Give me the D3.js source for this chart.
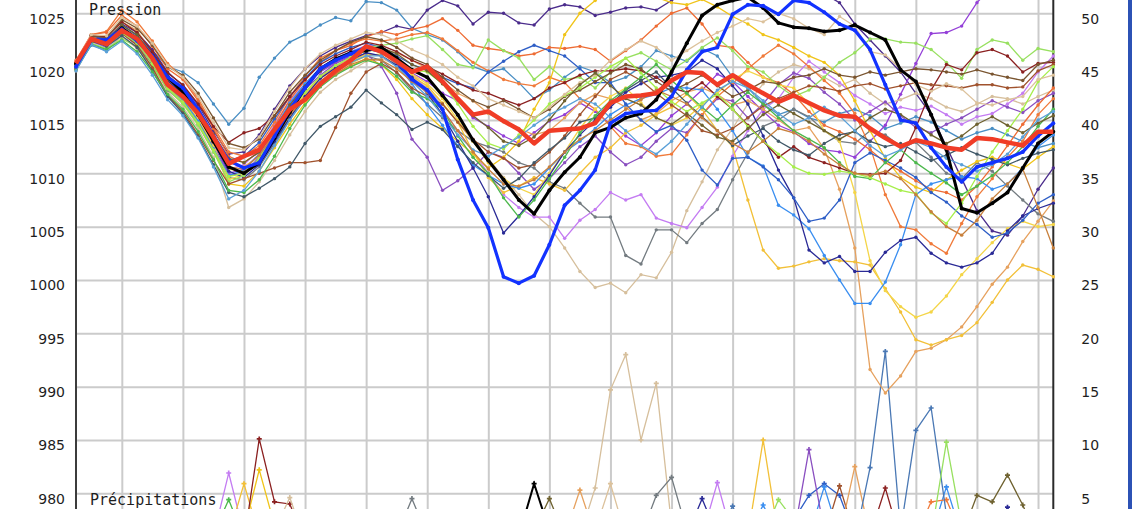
<!DOCTYPE html>
<html><head><meta charset="utf-8">
<script src="https://cdn.jsdelivr.net/npm/d3@7"></script>
<style>html,body{margin:0;padding:0;background:#fff;overflow:hidden}</style>
</head><body>
<svg id="chart" width="1132" height="509"></svg>
<script>
// ---------- DATA ----------
const hours = [0,6,12,18,24,30,36,42,48,54,60,66,72,78,84,90,96,102,108,114,120,126,132,138,144,150,156,162,168,174,180,186,192,198,204,210,216,222,228,234,240,246,252,258,264,270,276,282,288,294,300,306,312,318,324,330,336,342,348,354,360,366,372,378,384];
const gridHours = [18,42,66,90,114,138,162,186,210,234,258,282,306,330,354,378];
const pressureTicks = [980,985,990,995,1000,1005,1010,1015,1020,1025];
const precipTicks = [5,10,15,20,25,30,35,40,45,50];

const meanP = [1020.3,1022.6,1022.1,1023.4,1022.6,1020.8,1018.3,1017.2,1015.6,1013.4,
 1010.9,1011.6,1012.2,1014.1,1016.0,1016.9,1018.4,1019.6,1020.6,1021.9,
 1021.4,1020.5,1019.5,1020.0,1018.6,1017.0,1015.5,1015.8,1014.9,1014.1,
 1012.8,1014.0,1014.1,1014.2,1014.7,1016.6,1017.2,1017.3,1017.5,1018.7,
 1019.5,1019.4,1018.3,1019.2,1018.3,1017.5,1016.7,1017.3,1016.6,1015.9,
 1015.4,1015.3,1014.2,1013.3,1012.5,1013.1,1012.8,1012.4,1012.2,1013.3,
 1013.2,1012.9,1012.6,1013.9,1013.9];
const operP = [1020.0,1022.5,1022.5,1023.5,1022.4,1021.0,1019.0,1018.0,1016.0,1013.5,
 1011.2,1010.5,1011.0,1013.5,1016.0,1018.0,1019.8,1020.6,1021.2,1021.8,
 1021.4,1020.5,1018.8,1017.8,1016.0,1011.3,1007.5,1004.9,1000.3,999.7,
 1000.4,1003.3,1007.0,1008.4,1010.3,1014.7,1015.6,1015.8,1015.9,1017.2,
 1019.7,1021.4,1021.8,1024.9,1025.8,1025.7,1024.9,1026.2,1026.0,1025.1,
 1024.0,1023.4,1021.6,1018.3,1015.0,1014.7,1012.4,1010.6,1009.2,1010.6,
 1011.0,1011.4,1012.0,1013.5,1014.7];
const ctrlP = [1020.3,1022.5,1022.3,1023.6,1022.6,1021.0,1019.0,1017.6,1015.5,1013.0,
 1010.6,1010.0,1011.0,1013.3,1015.7,1018.0,1019.8,1020.7,1021.3,1021.5,
 1021.8,1020.8,1019.7,1019.0,1017.3,1015.5,1013.1,1011.2,1009.4,1007.5,
 1006.2,1008.4,1010.1,1011.5,1013.8,1014.3,1015.2,1015.6,1016.9,1019.5,
 1022.2,1024.8,1025.8,1026.2,1026.5,1025.5,1024.1,1023.7,1023.6,1023.3,
 1023.4,1023.9,1023.2,1022.5,1019.7,1018.6,1015.5,1012.2,1006.7,1006.3,
 1007.2,1008.2,1010.5,1012.8,1013.9];

const m01 = [1019.8,1022.0,1021.5,1023.0,1022.8,1021.5,1020.0,1019.5,1018.5,1016.5,
 1014.6,1016.1,1019.0,1020.8,1022.3,1023.0,1023.9,1024.6,1024.3,1026.1,
 1026.0,1025.3,1023.6,1023.0,1022.5,1021.4,1020.0,1019.5,1019.8,1018.5,
 1017.0,1017.8,1019.0,1020.0,1019.5,1018.5,1019.0,1020.0,1021.5,1021.0,
 1020.5,1021.7,1021.0,1019.0,1018.0,1016.5,1015.5,1016.0,1015.2,1014.8,
 1015.6,1016.0,1015.4,1014.2,1014.7,1015.3,1014.8,1014.0,1013.2,1013.8,
 1014.2,1013.6,1013.0,1012.4,1012.8];
const m02 = [1020.3,1022.8,1022.6,1024.0,1023.2,1021.6,1019.5,1018.2,1016.4,1014.0,
 1011.8,1012.0,1013.6,1016.0,1018.2,1019.8,1021.0,1021.8,1022.4,1022.9,
 1023.2,1023.8,1023.5,1025.3,1026.2,1025.7,1024.0,1025.1,1025.0,1024.1,
 1023.9,1025.4,1025.8,1025.6,1024.8,1025.1,1025.5,1025.6,1025.3,1026.2,
 1027.0,1027.6,1028.0,1028.3,1028.1,1027.8,1027.9,1027.5,1027.0,1026.8,
 1026.0,1024.0,1022.5,1021.0,1019.5,1017.5,1015.5,1012.5,1009.5,1006.5,
 1004.6,1004.2,1006.0,1008.5,1010.5];
const m03 = [1019.9,1022.4,1021.8,1023.2,1022.0,1020.4,1018.0,1016.8,1015.0,1012.6,
 1010.0,1010.4,1011.8,1014.2,1016.5,1018.3,1019.5,1020.4,1021.0,1021.6,
 1021.4,1020.6,1019.4,1018.6,1017.5,1016.8,1015.2,1014.4,1013.5,1012.8,
 1013.8,1014.9,1015.5,1016.6,1015.8,1014.6,1013.5,1012.6,1013.8,1015.4,
 1016.5,1017.8,1019.3,1018.6,1017.2,1015.8,1014.5,1013.9,1012.8,1012.2,
 1012.0,1011.5,1013.0,1014.5,1017.4,1020.3,1023.1,1023.2,1023.8,1026.0,
 1027.5,1028.5,1029.0,1029.5,1030.0];
const m04 = [1019.6,1022.2,1021.6,1022.8,1021.7,1019.8,1017.6,1016.2,1014.2,1011.5,
 1006.8,1007.6,1009.2,1011.2,1013.6,1015.8,1017.6,1018.8,1019.6,1020.5,
 1020.8,1020.1,1019.0,1018.0,1016.5,1014.8,1013.0,1011.4,1009.6,1008.0,
 1006.2,1005.0,1003.0,1000.8,999.3,999.7,998.8,1000.5,1000.2,1002.6,
 1006.5,1009.2,1012.2,1014.2,1016.5,1018.4,1019.5,1020.2,1019.8,1019.0,
 1018.2,1018.8,1017.5,1016.5,1016.9,1017.5,1017.0,1016.2,1015.8,1016.5,
 1017.2,1017.0,1016.5,1017.2,1017.8];
const m05 = [1020.2,1022.6,1022.0,1023.4,1022.2,1020.2,1017.8,1016.6,1014.6,1012.0,
 1009.6,1009.4,1010.6,1012.8,1015.0,1017.0,1018.6,1019.5,1020.4,1021.0,
 1020.6,1019.4,1017.8,1016.5,1015.2,1014.0,1013.0,1012.5,1012.0,1011.0,
 1010.5,1009.2,1008.6,1007.2,1005.9,1005.9,1002.3,1001.5,1004.7,1004.7,
 1003.5,1005.3,1006.6,1009.4,1011.9,1014.4,1015.0,1016.0,1015.3,1014.0,
 1013.0,1012.8,1014.0,1013.6,1012.5,1012.9,1011.5,1010.0,1009.5,1011.0,
 1010.2,1008.8,1007.5,1006.2,1005.5];
const m06 = [1020.0,1022.3,1021.9,1023.6,1022.4,1020.6,1018.4,1017.0,1015.2,1012.8,
 1010.4,1010.8,1012.2,1014.6,1016.8,1018.4,1019.8,1020.7,1021.4,1022.0,
 1021.9,1020.9,1019.4,1017.8,1016.0,1014.0,1012.0,1010.0,1008.0,1006.8,
 1005.9,1005.9,1003.9,1005.6,1006.6,1008.2,1007.5,1008.0,1005.8,1005.3,
 1004.9,1006.8,1008.7,1011.6,1014.0,1016.0,1017.0,1019.0,1020.5,1019.5,
 1018.5,1017.3,1016.5,1015.6,1016.2,1015.9,1016.3,1015.5,1014.6,1015.3,
 1015.6,1016.5,1017.5,1019.5,1021.0];
const m07 = [1020.1,1022.5,1022.0,1023.3,1022.1,1020.3,1018.2,1016.9,1015.0,1012.4,
 1009.8,1010.0,1011.5,1013.9,1016.0,1017.9,1019.2,1020.3,1020.9,1021.2,
 1020.0,1017.5,1013.2,1011.5,1008.4,1009.3,1010.5,1012.0,1011.5,1010.0,
 1008.5,1009.5,1011.0,1012.5,1013.5,1012.0,1010.8,1011.5,1013.0,1014.2,
 1013.8,1015.5,1017.0,1016.8,1015.2,1016.5,1018.3,1019.4,1018.9,1017.6,
 1016.5,1015.0,1015.8,1016.7,1015.4,1014.3,1013.8,1014.6,1015.2,1016.0,
 1016.8,1016.2,1015.7,1016.8,1017.5];
const m08 = [1020.4,1023.0,1023.3,1025.3,1024.2,1022.4,1020.3,1019.0,1017.0,1014.4,
 1012.0,1011.6,1012.6,1014.8,1017.2,1019.1,1020.8,1021.5,1022.2,1022.6,
 1022.4,1022.6,1023.0,1023.2,1022.6,1021.5,1020.4,1019.6,1018.8,1018.4,
 1018.2,1019.0,1018.5,1017.0,1016.0,1014.4,1012.8,1012.5,1011.6,1011.8,
 1013.6,1015.5,1017.2,1018.4,1019.8,1021.0,1022.0,1021.2,1020.0,1018.7,
 1017.5,1015.6,1012.5,1008.0,1005.0,1004.7,1003.4,1002.5,1005.3,1007.8,
 1009.5,1011.5,1013.0,1015.5,1017.0];
const m09 = [1020.6,1023.0,1023.2,1024.8,1023.8,1021.9,1019.8,1018.8,1016.8,1014.2,
 1011.6,1011.0,1012.0,1014.4,1016.9,1018.7,1020.4,1021.5,1022.0,1022.8,
 1023.3,1023.0,1023.5,1023.8,1024.5,1023.4,1022.0,1021.7,1021.5,1021.0,
 1021.2,1021.8,1021.7,1021.9,1021.6,1020.5,1021.5,1022.5,1023.8,1025.0,
 1025.5,1024.0,1022.0,1021.8,1020.4,1019.0,1018.5,1017.4,1015.8,1014.5,
 1013.9,1013.2,1012.2,1011.0,1010.2,1009.3,1008.5,1008.2,1007.5,1008.8,
 1010.6,1012.6,1014.6,1016.4,1018.0];
const m10 = [1020.0,1022.6,1022.4,1024.2,1023.4,1021.2,1019.0,1017.8,1015.8,1013.4,
 1011.0,1010.6,1011.6,1013.8,1016.0,1017.6,1019.0,1020.0,1020.8,1021.5,
 1021.6,1021.3,1020.6,1019.8,1018.6,1017.5,1016.8,1015.6,1014.8,1014.2,
 1013.6,1014.0,1015.2,1016.6,1017.4,1017.0,1016.2,1015.0,1015.6,1016.8,
 1017.6,1018.0,1017.4,1016.4,1016.8,1016.0,1015.0,1014.0,1014.3,1012.3,
 1008.5,1003.0,991.6,989.4,991.0,993.3,993.6,994.4,995.6,997.5,
 999.6,1001.2,1003.6,1005.5,1007.4];
const m11 = [1019.7,1022.3,1022.2,1023.8,1022.9,1020.9,1018.6,1017.3,1015.3,1012.9,
 1010.4,1010.2,1011.2,1013.4,1015.6,1017.4,1018.9,1019.8,1020.5,1021.2,
 1021.0,1020.2,1019.1,1018.2,1016.6,1014.8,1012.0,1009.6,1008.2,1008.8,
 1009.6,1009.0,1008.4,1010.0,1011.5,1012.4,1013.8,1014.5,1015.5,1016.2,
 1017.4,1016.0,1014.0,1012.5,1007.5,1002.8,1001.1,1001.3,1001.7,1002.0,
 1001.8,1001.7,1001.4,999.2,997.0,994.4,993.9,994.4,994.8,996.0,
 997.9,1000.0,1001.4,1001.0,1000.3];
const m12 = [1020.2,1022.8,1022.4,1023.5,1022.5,1020.5,1018.1,1016.9,1014.8,1012.2,
 1009.0,1008.8,1010.2,1012.4,1014.6,1016.6,1018.2,1019.4,1020.0,1020.8,
 1020.2,1018.8,1017.0,1015.5,1014.2,1013.0,1011.8,1010.5,1011.5,1013.0,
 1016.0,1018.5,1023.0,1025.0,1026.2,1027.0,1027.5,1027.0,1026.5,1026.0,
 1025.8,1026.3,1025.6,1024.7,1024.0,1023.0,1022.5,1021.8,1021.0,1020.4,
 1019.2,1016.8,1014.0,1011.4,1009.6,1008.7,1008.2,1009.4,1010.3,1011.1,
 1011.5,1010.9,1010.4,1011.5,1012.5];
const m13 = [1020.1,1022.5,1022.1,1023.3,1022.3,1020.7,1018.3,1017.1,1015.1,1012.6,
 1009.4,1009.9,1011.0,1013.1,1015.3,1017.2,1018.6,1019.6,1020.3,1021.0,
 1021.2,1020.5,1019.3,1018.4,1017.0,1015.0,1013.0,1011.0,1009.5,1008.6,
 1008.0,1010.0,1012.0,1014.2,1016.0,1017.2,1018.0,1016.6,1015.2,1014.5,
 1015.2,1016.4,1017.5,1018.8,1019.6,1019.0,1018.3,1018.0,1016.5,1014.0,
 1013.0,1008.2,1001.8,999.0,997.5,996.5,997.0,998.5,1000.5,1002.0,
 1003.5,1004.8,1005.5,1005.0,1005.2];
const m14 = [1019.8,1022.6,1022.3,1023.5,1022.4,1020.6,1018.2,1016.9,1014.9,1012.3,
 1009.8,1010.3,1011.8,1014.2,1016.6,1018.4,1019.9,1020.8,1021.4,1021.9,
 1021.5,1020.2,1018.4,1016.4,1014.5,1012.6,1010.8,1009.8,1009.0,1008.6,
 1009.0,1010.5,1012.0,1013.0,1014.2,1015.5,1016.4,1017.0,1017.4,1018.0,
 1018.0,1017.8,1016.0,1014.0,1011.5,1010.7,1007.0,1006.1,1004.8,1002.3,
 1000.0,997.8,997.8,999.8,1003.3,1008.0,1009.0,1009.4,1009.7,1009.5,
 1008.5,1009.0,1010.5,1012.5,1013.6];
const m15 = [1020.3,1022.7,1022.5,1023.7,1022.7,1020.9,1018.7,1017.4,1015.5,1012.9,
 1010.2,1009.6,1010.8,1013.0,1015.2,1017.2,1018.9,1019.9,1020.6,1021.3,
 1021.0,1020.1,1019.0,1017.5,1015.5,1013.0,1010.5,1007.8,1004.4,1006.0,
 1007.8,1009.8,1012.0,1013.6,1015.0,1016.2,1017.6,1018.4,1019.0,1019.2,
 1019.5,1020.6,1019.8,1018.2,1016.5,1013.5,1010.3,1007.7,1002.8,1001.6,
 1002.2,1000.8,1000.8,1002.6,1003.7,1004.0,1002.5,1001.6,1001.2,1001.6,
 1002.5,1004.6,1006.0,1006.7,1007.2];
const m16 = [1020.0,1022.9,1022.6,1023.9,1022.9,1021.3,1019.2,1018.0,1016.0,1013.6,
 1011.2,1011.6,1012.9,1015.1,1017.2,1018.9,1020.4,1021.2,1021.8,1022.2,
 1021.8,1021.0,1020.2,1019.7,1019.0,1018.4,1018.0,1019.5,1020.5,1021.4,
 1022.0,1021.5,1021.0,1019.8,1018.5,1018.5,1016.5,1015.0,1013.9,1014.5,
 1013.1,1010.3,1008.9,1011.4,1011.5,1010.6,1009.4,1007.7,1005.5,1005.8,
 1007.5,1011.0,1011.9,1011.2,1010.5,1009.6,1008.2,1007.3,1006.0,1005.2,
 1004.0,1004.4,1005.6,1007.2,1008.0];
const m17 = [1019.9,1022.2,1021.7,1022.6,1021.9,1020.0,1017.9,1016.5,1014.5,1012.0,
 1009.2,1009.8,1011.4,1013.8,1016.2,1018.1,1019.7,1020.6,1021.3,1021.8,
 1022.0,1022.2,1022.6,1022.9,1021.6,1020.2,1019.9,1022.5,1021.5,1020.8,
 1018.8,1020.0,1018.8,1019.0,1018.0,1019.5,1020.8,1021.3,1020.5,1019.7,
 1020.6,1021.8,1022.7,1021.5,1020.0,1019.5,1018.2,1017.2,1017.8,1019.0,
 1020.4,1021.3,1022.6,1022.6,1022.3,1022.2,1021.6,1020.4,1018.9,1021.6,
 1022.5,1022.2,1020.6,1021.7,1021.4];
const m18 = [1020.2,1022.9,1022.8,1024.2,1023.2,1021.4,1019.4,1018.3,1016.5,1014.4,
 1012.9,1013.8,1014.2,1015.4,1017.2,1018.8,1020.2,1021.0,1021.6,1022.3,
 1022.0,1021.4,1020.6,1020.0,1019.3,1018.5,1017.8,1017.5,1016.9,1016.4,
 1017.0,1018.0,1018.5,1019.2,1019.6,1019.6,1019.8,1019.6,1019.0,1018.0,
 1017.6,1018.5,1017.2,1016.0,1014.5,1013.0,1011.5,1012.5,1011.5,1011.0,
 1010.5,1010.0,1009.9,1010.0,1011.2,1014.3,1017.8,1020.2,1019.7,1021.3,
 1021.6,1021.0,1019.5,1020.3,1020.4];
const m19 = [1020.3,1022.9,1022.7,1024.4,1023.6,1022.0,1020.0,1019.2,1017.5,1015.2,
 1012.8,1012.4,1013.2,1015.4,1017.6,1019.2,1020.6,1021.5,1022.3,1022.8,
 1022.5,1021.8,1020.8,1020.2,1019.0,1017.8,1016.8,1016.2,1016.8,1016.0,
 1015.2,1016.0,1017.2,1017.8,1018.6,1019.4,1020.2,1019.8,1018.6,1017.7,
 1018.4,1019.2,1018.2,1017.2,1017.8,1018.6,1018.4,1019.0,1019.2,1019.8,
 1019.2,1019.0,1019.5,1019.2,1019.5,1019.8,1019.7,1019.5,1019.3,1019.7,
 1019.3,1019.0,1018.7,1020.2,1020.6];
const m20 = [1019.8,1022.4,1022.0,1023.1,1022.0,1019.9,1017.3,1015.8,1013.6,1011.2,
 1009.0,1009.5,1010.0,1010.5,1011.0,1011.0,1011.2,1014.3,1017.5,1019.5,
 1020.3,1019.5,1018.0,1017.2,1016.5,1014.8,1013.2,1012.0,1011.4,1010.5,
 1010.8,1012.0,1013.5,1015.5,1017.2,1018.8,1019.5,1018.7,1017.5,1016.4,
 1015.4,1014.0,1013.6,1014.2,1015.2,1016.3,1017.0,1017.6,1018.2,1018.0,
 1017.7,1018.2,1018.4,1017.9,1018.2,1018.5,1018.3,1018.2,1018.0,1018.3,
 1018.3,1018.0,1018.1,1019.6,1020.2];
const m21 = [1020.0,1022.4,1021.9,1022.9,1021.8,1019.6,1017.2,1015.6,1013.4,1010.8,
 1008.2,1007.8,1008.6,1009.5,1010.6,1012.8,1014.4,1015.3,1016.2,1017.8,
 1016.6,1015.5,1014.1,1014.8,1014.1,1012.5,1011.0,1009.8,1008.6,1009.5,
 1011.0,1012.2,1013.3,1014.8,1015.2,1016.5,1017.8,1018.7,1019.5,1018.0,
 1016.6,1015.3,1014.0,1012.6,1013.5,1014.2,1013.0,1012.2,1011.7,1012.8,
 1013.6,1013.9,1013.0,1012.5,1012.8,1012.0,1011.2,1011.7,1012.4,1011.8,
 1011.3,1010.8,1011.4,1011.9,1012.2];
const m22 = [1019.7,1022.1,1021.6,1022.5,1021.4,1019.5,1017.4,1016.0,1013.9,1011.3,
 1008.4,1008.2,1009.4,1011.6,1014.2,1016.4,1018.1,1019.2,1020.0,1020.6,
 1020.2,1019.1,1017.6,1017.0,1016.0,1013.5,1011.5,1010.0,1007.7,1005.9,
 1007.5,1009.5,1011.5,1013.8,1015.4,1016.8,1017.9,1019.0,1020.2,1018.7,
 1017.5,1016.2,1015.0,1016.4,1017.6,1016.5,1015.2,1014.0,1013.2,1012.4,
 1011.0,1009.7,1009.5,1011.0,1012.2,1011.0,1010.0,1009.1,1008.0,1008.8,
 1009.8,1011.0,1012.5,1014.4,1016.0];
const m23 = [1020.1,1022.6,1022.2,1023.2,1022.2,1020.3,1018.0,1016.7,1014.7,1012.2,
 1009.7,1010.0,1011.3,1013.5,1015.8,1017.6,1019.1,1020.1,1020.9,1021.5,
 1021.5,1020.7,1019.7,1019.5,1018.4,1016.5,1014.4,1012.8,1012.3,1013.6,
 1015.0,1016.5,1017.3,1018.0,1019.0,1020.0,1020.8,1019.4,1018.0,1016.7,
 1015.8,1016.6,1017.4,1016.0,1014.4,1013.0,1011.8,1010.6,1010.0,1009.9,
 1010.2,1010.0,1009.6,1009.0,1008.4,1008.1,1006.3,1005.3,1007.2,1009.7,
 1012.0,1014.0,1016.0,1018.6,1020.0];
const m24 = [1020.5,1023.0,1022.9,1024.6,1023.8,1022.2,1020.1,1019.0,1017.2,1014.8,
 1012.4,1012.2,1013.4,1015.8,1018.0,1019.8,1021.2,1022.0,1022.6,1023.2,
 1023.0,1022.4,1021.6,1021.0,1020.2,1019.0,1018.2,1017.0,1016.4,1015.8,
 1015.2,1016.2,1017.4,1018.5,1019.2,1020.6,1021.6,1022.4,1021.8,1020.6,
 1021.5,1022.4,1023.2,1023.8,1024.5,1024.2,1025.0,1024.5,1023.6,1023.0,
 1024.7,1023.8,1021.4,1021.1,1019.8,1018.3,1017.7,1018.4,1017.9,1016.6,
 1016.4,1016.9,1017.2,1018.8,1019.2];
const m25 = [1020.2,1022.7,1022.4,1023.9,1023.0,1021.0,1018.8,1017.8,1016.0,1013.7,
 1011.4,1011.0,1012.0,1014.0,1016.4,1018.2,1019.6,1020.6,1021.2,1021.7,
 1021.8,1021.2,1020.2,1019.6,1018.4,1017.0,1015.4,1014.3,1013.0,1012.6,
 1013.4,1015.0,1016.8,1018.3,1019.4,1018.2,1017.0,1016.4,1015.2,1014.6,
 1015.6,1014.5,1013.4,1013.0,1014.2,1015.5,1016.4,1015.6,1014.8,1014.0,
 1013.2,1014.0,1015.2,1016.0,1015.5,1014.6,1013.6,1012.8,1013.5,1014.6,
 1015.3,1014.5,1013.8,1014.7,1015.4];
const m26 = [1019.6,1022.1,1021.4,1022.4,1021.2,1019.2,1016.9,1015.4,1013.3,1010.6,
 1007.6,1008.4,1010.2,1012.6,1015.0,1017.0,1018.6,1019.6,1020.4,1021.0,
 1021.0,1020.0,1018.6,1017.2,1015.4,1013.6,1012.2,1011.6,1012.5,1013.4,
 1014.5,1015.5,1016.2,1017.0,1016.5,1015.2,1014.0,1012.6,1011.8,1013.0,
 1014.6,1016.2,1017.8,1018.6,1018.0,1016.8,1015.6,1014.6,1015.2,1016.2,
 1015.4,1014.0,1012.6,1011.6,1012.2,1013.0,1012.4,1011.4,1010.8,1010.2,
 1010.8,1011.8,1013.4,1015.0,1015.8];
const m27 = [1020.0,1022.5,1022.2,1023.4,1022.6,1020.6,1018.4,1017.1,1015.4,1013.0,
 1010.6,1010.4,1011.7,1013.6,1015.5,1017.0,1018.2,1019.3,1020.2,1020.7,
 1020.6,1019.8,1018.6,1017.6,1016.0,1014.0,1012.0,1010.4,1009.0,1008.8,
 1009.4,1010.6,1012.0,1013.2,1014.0,1015.0,1016.0,1016.9,1017.8,1017.2,
 1016.5,1015.2,1014.0,1012.8,1012.0,1013.0,1014.2,1013.8,1013.0,1011.8,
 1010.8,1010.0,1009.8,1010.2,1009.5,1008.0,1006.4,1005.0,1004.2,1005.6,
 1007.6,1009.0,1010.4,1006.8,1003.0];

// precipitation (mm), right axis
const pr01 = [0,0,0,0,0,0,0,0,0,1.0, 6.9,1.2,0,0,0,0,0,0,0,0, 0,0,0,0,0,0,0,0,0,0, 0,0,0,0,0,0,0,0,0,0, 0,1.0,6.0,0.8,0,0,0,0,0,0, 0,0,0,0,0,0,0,0,0,0, 0,0,0,0,0];
const pr02 = [0,0,0,0,0,0,0,0,0,1.2, 4.4,0.8,0,0,0,0,0,0,0,0, 0,0,0,0,0,0,0,0,0,0, 0,0,0,0,0,0,0,0,0,0, 0,0,0,0,0,0,0,0,0,0, 0,0,0,0,0,0,0,0,0,0, 0,0,0,0,0];
const pr03 = [0,0,0,0,0,0,0,0,0,0, 1.0,5.9,1.0,0,0,0,0,0,0,0, 0,0,0,0,0,0,0,0,0,0, 0,0,0,0,0,0,0,0,0,0, 0,0,0,0,1.0,10.0,1.0,0,0,0, 0,0,0,0,0,0,0,0,0,0, 0,0,0,0,0];
const pr04 = [0,0,0,0,0,0,0,0,0,0, 0,1.5,7.2,2.0,0,0,0,0,0,0, 0,0,0,0,0,0,0,0,0,0, 0,0,0,0,0,0,0,0,0,0, 0,0,0,0,0,0,0,0,0,0, 0,0,0,0,0,0,0,0,0,0, 0,0,0,0,0];
const pr05 = [0,0,0,0,0,0,0,0,0,0, 0,0.5,10.1,4.2,4.0,0.5,0,0,0,0, 0,0,0,0,0,0,0,0,0,0, 0,0,0,0,0,0,0,0,0,0, 0,0,0,0,0,0,0,0,0,0, 0,0,1.0,5.5,0.5,0,0,0,0,0, 0,0,0,0,0];
const pr06 = [0,0,0,0,0,0,0,0,0,0, 0,0,0,1.5,4.6,0.5,0,0,0,0, 0,0,0,0,0,0,0,0,0,0, 0,0,0,1.0,5.5,14.7,18.0,10.0,15.3,2.0, 0,0,0,0,0,0,0,0,0,0, 0,0,0,0,0,0,0,0,0,0, 0,0,0,0,0];
const pr07 = [0,0,0,0,0,0,0,0,0,0, 0,0,0,0,0,0,0,0,0,0, 0,0,0,0,0,0,0,0,0,0, 0,0,0,0,1.5,5.9,1.0,0,0,0, 0,0,0,0,0,0,0,0,0,0, 0,0,0,0,0,0,0,0,0,0, 0,0,0,0,0];
const pr08 = [0,0,0,0,0,0,0,0,0,0, 0,0,0,0,0,0,0,0,0,0, 0,1.0,4.5,1.0,0,0,0,0,0,0, 0,0,0,0,0,0,0,1.0,4.8,6.5, 1.5,0,0,0,0,0,0,0,0,0, 0,0,0,0,0,0,0,0,0,0, 0,0,0,0,0];
const pr09 = [0,0,0,0,0,0,0,0,0,0, 0,0,0,0,0,0,0,0,0,0, 0,0,0,0,0,0,0,0,0,1.0, 5.9,1.5,0,0,0,0,0,0,0,0, 0,0,0,0,0,0,0,0,0,0, 0,0,0,0,0,0,0,0,0,0, 0,0,0,0,0];
const pr10 = [0,0,0,0,0,0,0,0,0,0, 0,0,0,0,0,0,0,0,0,0, 0,0,0,0,0,0,0,0,0,0, 1.5,4.5,1.0,0,0,0,0,0,0,0, 0,0,0,0,0,0,0,0,0,0, 0,0,0,0,0,0,0,0,1.0,4.8, 4.2,6.7,3.9,0.5,0];
const pr11 = [0,0,0,0,0,0,0,0,0,0, 0,0,0,0,0,0,0,0,0,0, 0,0,0,0,0,0,0,0,0,0, 0,0,0,0,0,0,0,0,0,0, 1.0,4.5,1.0,0,0,0,0,0,0,0, 0,0,0,0,0,0,0,0,0,0, 1.0,3.7,0.5,0,0];
const pr12 = [0,0,0,0,0,0,0,0,0,0, 0,0,0,0,0,0,0,0,0,0, 0,0,0,0,0,0,0,0,0,0, 0,0,0,0,0,0,0,0,0,0, 0,0,0,0,0,0,0,2.5,4.8,5.9, 4.8,1.0,0,0,0,0,0,0,0,0, 0,0,0,0,0];
const pr13 = [0,0,0,0,0,0,0,0,0,0, 0,0,0,0,0,0,0,0,0,0, 0,0,0,0,0,0,0,0,0,0, 0,0,0,0,0,0,0,0,0,0, 0,0,0,0,1.0,3.9,1.0,0,1.0,5.6, 1.0,0,0,0,0,0,1.0,5.6,1.0,0, 0,0,0,0,0];
const pr14 = [0,0,0,0,0,0,0,0,0,0, 0,0,0,0,0,0,0,0,0,0, 0,0,0,0,0,0,0,0,0,0, 0,0,0,0,0,0,0,0,0,0, 0,0,0,0,0,0,0,1.0,9.1,1.5, 0,0,0,0,0,0,0,0,0,0, 0,0,0,0,0];
const pr15 = [0,0,0,0,0,0,0,0,0,0, 0,0,0,0,0,0,0,0,0,0, 0,0,0,0,0,0,0,0,0,0, 0,0,0,0,0,0,0,0,0,0, 0,0,0,0,0,0,0,0,0,1.0, 5.7,1.0,0,0,0,0,0,0,0,0, 0,0,0,0,0];
const pr16 = [0,0,0,0,0,0,0,0,0,0, 0,0,0,0,0,0,0,0,0,0, 0,0,0,0,0,0,0,0,0,0, 0,0,1.0,5.3,1.0,0,0,0,0,0, 0,0,0,0,0,0,0,0,0,0, 1.0,7.5,1.0,0,0,0,0,0,0,0, 0,0,0,0,0];
const pr17 = [0,0,0,0,0,0,0,0,0,0, 0,0,0,0,0,0,0,0,0,0, 0,0,0,0,0,0,0,0,0,0, 0,0,0,0,0,0,0,0,0,0, 0,0,0,0,0,0,0,0,0,0, 0,0,0,0,0,1.0,4.2,4.4,1.0,0, 0,0,0,0,0];
const pr18 = [0,0,0,0,0,0,0,0,0,0, 0,0,0,0,0,0,0,0,0,0, 0,0,0,0,0,0,0,0,0,0, 0,0,0,0,0,0,0,0,0,0, 0,0,1.0,3.8,0.5,0,0,0,0,0, 0,0.5,7.4,18.3,1.5,10.9,13.0,3.0,0.5,0, 0,0,0,0,0];
const pr19 = [0,0,0,0,0,0,0,0,0,0, 0,0,0,0,0,0,0,0,0,0, 0,0,0,0,0,0,0,0,0,0, 0,0,0,0,0,0,0,0,0,0, 0,0,0,0,0,1.0,4.4,2.5,0,0, 0,0,0,0,0,0,1.0,9.8,2.0,0, 0,0,0,0,0];

// ---------- DRAWING ----------
const members = [m01,m02,m03,m04,m05,m06,m07,m08,m09,m10,m11,m12,m13,m14,m15,m16,m17,m18,m19,m20,m21,m22,m23,m24,m25,m26,m27];
const memberColors = ['#4a8fc4','#4b2c8c','#9440d8','#d6bf9c','#737b80','#c47cf2','#8a4fc0','#f07a3a','#ee6c34','#e6a15e','#f2c038','#f0c419','#f4d548','#3a8ef0','#2a2a96','#2e5ec6','#98e060','#8b2020','#7a5530','#a0522d','#405868','#4cb84c','#a6ee4a','#dcc29c','#6f6230','#5aa0d8','#c8803c'];
const precip = [pr01,pr02,pr03,pr04,pr05,pr06,pr07,pr08,pr09,pr10,pr11,pr12,pr13,pr14,pr15,pr16,pr17,pr18,pr19];
const precipColors = ['#c47cf2','#4cb84c','#f2c038','#f0c419','#8b2020','#d6bf9c','#dcc29c','#737b80','#000000','#6f6230','#2a2a96','#2e5ec6','#3a8ef0','#8a4fc0','#a0522d','#e6a15e','#f07a3a','#4a78b4','#98e060'];

const svg = d3.select('#chart');
const xS = d3.scaleLinear().domain([0,384]).range([76,1053.3]);
const yS = d3.scaleLinear().domain([980,1025]).range([493.3,13.3]);
const yR = d3.scaleLinear().domain([5,50]).range([493.3,13.3]);

svg.append('rect').attr('width',1132).attr('height',509).attr('fill','#ffffff');

// grid
const gh = svg.append('g').attr('transform','translate(76,0)')
  .call(d3.axisRight(yS).tickValues(pressureTicks).tickSize(977.3).tickFormat(''));
gh.select('.domain').remove();
gh.selectAll('line').attr('stroke','#cbcbcb').attr('stroke-width',2);
const gv = svg.append('g')
  .call(d3.axisBottom(xS).tickValues(gridHours).tickSize(509).tickFormat(''));
gv.select('.domain').remove();
gv.selectAll('line').attr('stroke','#cbcbcb').attr('stroke-width',2);

// axis frame lines
svg.append('line').attr('x1',76).attr('x2',76).attr('y1',0).attr('y2',509).attr('stroke','#3c3c3c').attr('stroke-width',2);
svg.append('line').attr('x1',1053.3).attr('x2',1053.3).attr('y1',0).attr('y2',509).attr('stroke','#2a2a2a').attr('stroke-width',2);

// axis labels
const la = svg.append('g').attr('transform','translate(76,0)')
  .call(d3.axisLeft(yS).tickValues(pressureTicks).tickFormat(d3.format('d')).tickSize(0).tickPadding(11));
la.select('.domain').remove();
la.selectAll('text').attr('y',5.5).attr('font-family','DejaVu Sans').attr('font-size',14).attr('fill','#1e1e1e');
const ra = svg.append('g').attr('transform','translate(1053.3,0)')
  .call(d3.axisRight(yR).tickValues(precipTicks).tickFormat(d3.format('d')).tickSize(0).tickPadding(28));
ra.select('.domain').remove();
ra.selectAll('text').attr('y',5.5).attr('font-family','DejaVu Sans').attr('font-size',14).attr('fill','#1e1e1e');

const lineP = d3.line().x((d,i)=>xS(hours[i])).y(d=>yS(d));
const lineR = d3.line().x((d,i)=>xS(hours[i])).y(d=>yR(d));

// precipitation lines
precip.forEach((vals,k)=>{
  const g = svg.append('g');
  g.append('path').attr('d',lineR(vals)).attr('fill','none').attr('stroke',precipColors[k]).attr('stroke-width',k===8?2:1.3);
  g.selectAll('path.mk').data(vals).join('path').attr('class','mk')
    .attr('d',d3.symbol(d3.symbolCross,14))
    .attr('transform',(d,i)=>`translate(${xS(hours[i])},${yR(d)})`)
    .attr('fill',precipColors[k]);
});

// member pressure lines
members.forEach((vals,k)=>{
  const g = svg.append('g');
  g.append('path').attr('d',lineP(vals)).attr('fill','none').attr('stroke',memberColors[k]).attr('stroke-width',1.3);
  g.selectAll('circle').data(vals).join('circle')
    .attr('cx',(d,i)=>xS(hours[i])).attr('cy',d=>yS(d)).attr('r',1.7).attr('fill',memberColors[k]);
});

function thick(vals,color,w,r){
  const g = svg.append('g');
  g.append('path').attr('d',lineP(vals)).attr('fill','none').attr('stroke',color).attr('stroke-width',w).attr('stroke-linejoin','round');
  if(r>0) g.selectAll('circle').data(vals).join('circle')
    .attr('cx',(d,i)=>xS(hours[i])).attr('cy',d=>yS(d)).attr('r',r).attr('fill',color);
}
thick(ctrlP,'#000000',3,2);
thick(operP,'#1232ff',3.2,2);
thick(meanP,'#f03c26',4.5,0);

// titles
svg.append('text').attr('x',89).attr('y',15).attr('font-family','DejaVu Sans Mono').attr('font-size',15).attr('fill','#1e1e1e').text('Pression');
svg.append('text').attr('x',90).attr('y',505).attr('font-family','DejaVu Sans Mono').attr('font-size',15).attr('fill','#1e1e1e').text('Précipitations');

// right border band
svg.append('rect').attr('x',1128).attr('y',0).attr('width',4).attr('height',509).attr('fill','#2c52b5');
</script>
</body></html>
